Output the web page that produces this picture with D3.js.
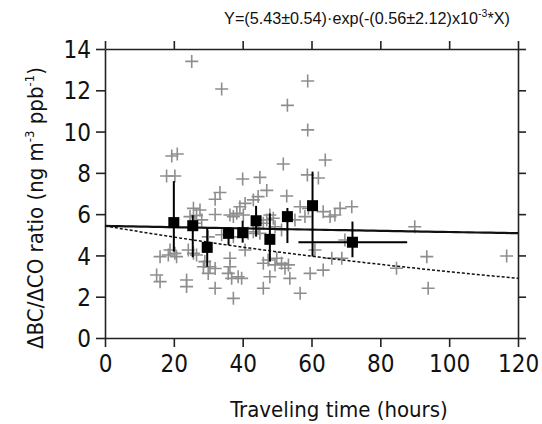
<!DOCTYPE html>
<html>
<head>
<meta charset="utf-8">
<script src="https://cdn.jsdelivr.net/npm/d3@7"></script>
<style>
  body { margin: 0; background: #fff; }
  svg { display: block; }
  .tick text { font-family: "DejaVu Sans Condensed", "DejaVu Sans", sans-serif; font-stretch: condensed; }
</style>
</head>
<body>
<svg id="chart" width="542" height="424"></svg>
<script>
// individual samples (gray crosses): traveling time (h), ratio
const sampleX = [25.2, 33.9, 58.9, 53, 58.9, 21, 19.4, 51.8, 64, 17.9, 20.3, 40, 45, 58.8, 62,
  47, 33.4, 32, 52.8, 44.5, 43.1, 40.7, 39.2, 56.7, 59.1,
  25.7, 27.6, 26.6, 24.7, 28.1, 26.1, 32, 36.3, 38.3, 40.2, 37.3,
  47.9, 48.9, 47, 46, 49.4, 44.5, 45, 43.1, 41.6, 58.1, 55.2, 65.4, 63.4, 66.8, 68.3, 71.7, 90, 69.7,
  30, 33.9, 37.3, 51.3, 40.7,
  18.9, 20.3, 20.8, 18.4, 16, 24.2, 25.7, 26.6, 29, 28.6, 30.5, 32, 30, 36.3, 36.3, 35.8, 36.8,
  15, 16, 23.7, 23.7, 32, 37.3, 38.7, 39.7, 46, 47.4, 49.9, 49.4, 51.3, 52.3, 53.3, 47.9, 53.7,
  59.6, 63.4, 46, 56.7, 61, 65.9, 68.8, 84.7, 93.5, 93.9, 116.7];
const sampleY = [13.4, 12.06, 12.45, 11.27, 10.08, 8.91, 8.82, 8.43, 8.62, 7.85, 7.85, 7.7, 7.78, 7.9, 7.75,
  7.15, 7.05, 6.72, 6.88, 6.85, 6.69, 6.52, 6.36, 6.36, 6.28,
  6.28, 6.2, 5.94, 5.88, 5.72, 5.56, 5.98, 5.96, 6.04, 5.96, 5.88,
  5.96, 5.8, 5.72, 5.56, 5.39, 5.31, 5.07, 5.15, 5.07, 5.88, 5.72, 5.88, 6.12, 5.96, 6.28, 6.36, 5.39, 4.75,
  4.9, 5.0, 4.9, 5.23, 4.26,
  4.26, 4.1, 3.94, 4.02, 3.94, 4.26, 4.1, 4.02, 3.7, 3.45, 3.45, 3.37, 3.13, 3.86, 3.45, 3.13, 2.89,
  3.05, 2.73, 2.81, 2.49, 2.41, 1.92, 2.97, 2.89, 3.62, 3.78, 3.86, 3.54, 3.62, 3.38, 3.54, 2.97, 2.89,
  3.13, 3.29, 2.41, 2.17, 4.26, 3.86, 3.86, 3.38, 3.94, 2.41, 3.97];

// binned means (black squares) with error bars
const meanX = [20, 25.5, 29.7, 35.9, 40, 43.9, 47.9, 53, 60.3, 71.9];
const meanY = [5.59, 5.44, 4.39, 5.07, 5.1, 5.68, 4.78, 5.88, 6.41, 4.64];
const meanLo = [4.18, 3.91, 3.45, 4.5, 4.62, 4.91, 3.7, 4.6, 3.95, 3.91];
const meanHi = [7.6, 5.95, 5.31, 5.36, 5.68, 6.4, 6.04, 6.3, 8.06, 5.64];
const meanXLo = [20, 25.5, 29.7, 35.9, 40, 43.9, 47.9, 53, 60.3, 56.2];
const meanXHi = [20, 25.5, 29.7, 35.9, 40, 43.9, 47.9, 53, 60.3, 87.8];

// fit curves Y = a * exp(-k * X)
const fitA = 5.43;
const fitK = 0.56e-3;
const dashA = 5.43;
const dashK = 5.25e-3;

const xTicks = [0, 20, 40, 60, 80, 100, 120];
const yTicks = [0, 2, 4, 6, 8, 10, 12, 14];

const svg = d3.select('#chart');
const mLeft = 105, mRight = 518, mTop = 49, mBottom = 338;

const x = d3.scaleLinear().domain([0, 120]).range([mLeft, mRight]);
const y = d3.scaleLinear().domain([0, 14]).range([mBottom, mTop]);

const axisColor = '#222';
const tickFont = 24;

function styleAxis(g) {
  g.selectAll('path.domain').attr('stroke', axisColor).attr('stroke-width', 1.6);
  g.selectAll('.tick line').attr('stroke', axisColor).attr('stroke-width', 1.6);
  g.selectAll('.tick text').attr('font-size', tickFont).attr('fill', '#111');
}

svg.append('g')
  .attr('transform', `translate(0,${mBottom})`)
  .call(d3.axisBottom(x).tickValues(xTicks).tickSize(9).tickSizeOuter(0).tickPadding(8))
  .call(styleAxis);

svg.append('g')
  .attr('transform', `translate(${mLeft},0)`)
  .call(d3.axisLeft(y).tickValues(yTicks).tickSize(9).tickSizeOuter(0).tickPadding(5))
  .call(styleAxis)
  .call(g => g.selectAll('.tick text').attr('dy', '0.36em'));

svg.append('g')
  .attr('transform', `translate(0,${mTop})`)
  .call(d3.axisTop(x).tickValues(xTicks).tickSize(8).tickSizeOuter(0).tickFormat(''))
  .call(styleAxis);

svg.append('g')
  .attr('transform', `translate(${mRight},0)`)
  .call(d3.axisRight(y).tickValues(yTicks).tickSize(8).tickSizeOuter(0).tickFormat(''))
  .call(styleAxis);

// gray crosses
const samples = sampleX.map((d, i) => ({ x: d, y: sampleY[i] }));
const cs = 6.5;
svg.append('g')
  .attr('stroke', '#8e8e8e')
  .attr('stroke-width', 1.6)
  .selectAll('path')
  .data(samples)
  .join('path')
  .attr('d', d => {
    const px = x(d.x), py = y(d.y);
    return `M${px - cs},${py}H${px + cs}M${px},${py - cs}V${py + cs}`;
  });

// fit curves
const xs = d3.range(0, 120.01, 2);
const line = d3.line().x(d => x(d[0])).y(d => y(d[1]));
svg.append('path')
  .attr('d', line(xs.map(v => [v, dashA * Math.exp(-dashK * v)])))
  .attr('fill', 'none')
  .attr('stroke', '#111')
  .attr('stroke-width', 1.5)
  .attr('stroke-dasharray', '3,2');
svg.append('path')
  .attr('d', line(xs.map(v => [v, fitA * Math.exp(-fitK * v)])))
  .attr('fill', 'none')
  .attr('stroke', '#111')
  .attr('stroke-width', 2.2);

// means with error bars
const means = meanX.map((d, i) => ({
  x: d, y: meanY[i], lo: meanLo[i], hi: meanHi[i], xlo: meanXLo[i], xhi: meanXHi[i]
}));
const mg = svg.append('g');
mg.selectAll('line.v')
  .data(means)
  .join('line')
  .attr('class', 'v')
  .attr('x1', d => x(d.x)).attr('x2', d => x(d.x))
  .attr('y1', d => y(d.lo)).attr('y2', d => y(d.hi))
  .attr('stroke', '#000').attr('stroke-width', 2);
mg.selectAll('line.h')
  .data(means.filter(d => d.xhi > d.xlo))
  .join('line')
  .attr('class', 'h')
  .attr('x1', d => x(d.xlo)).attr('x2', d => x(d.xhi))
  .attr('y1', d => y(d.y)).attr('y2', d => y(d.y))
  .attr('stroke', '#000').attr('stroke-width', 2);
const sq = 11;
mg.selectAll('rect')
  .data(means)
  .join('rect')
  .attr('x', d => x(d.x) - sq / 2)
  .attr('y', d => y(d.y) - sq / 2)
  .attr('width', sq).attr('height', sq)
  .attr('fill', '#000');

// title
const title = svg.append('text')
  .attr('x', 367).attr('y', 24)
  .attr('text-anchor', 'middle')
  .attr('font-family', '"Liberation Sans", Arial, sans-serif')
  .attr('font-size', 16.2)
  .attr('fill', '#111');
title.append('tspan').text('Y=(5.43±0.54)·exp(-(0.56±2.12)x10');
title.append('tspan').attr('font-size', 10.5).attr('dy', -7).text('-3');
title.append('tspan').attr('dy', 7).text('*X)');

// axis titles
const labelFont = '"DejaVu Sans Condensed", "DejaVu Sans", sans-serif';
svg.append('text')
  .attr('x', 339).attr('y', 417)
  .attr('text-anchor', 'middle')
  .attr('font-family', labelFont)
  .style('font-stretch', 'condensed')
  .attr('font-size', 22)
  .attr('fill', '#111')
  .text('Traveling time (hours)');

const yl = svg.append('text')
  .attr('transform', 'translate(43,208) rotate(-90)')
  .attr('text-anchor', 'middle')
  .attr('font-family', labelFont)
  .style('font-stretch', 'condensed')
  .attr('font-size', 22)
  .attr('fill', '#111');
yl.append('tspan').text('ΔBC/ΔCO ratio (ng m');
yl.append('tspan').attr('font-size', 13).attr('dy', -9).text('-3');
yl.append('tspan').attr('dy', 9).text(' ppb');
yl.append('tspan').attr('font-size', 13).attr('dy', -9).text('-1');
yl.append('tspan').attr('dy', 9).text(')');
</script>
</body>
</html>
